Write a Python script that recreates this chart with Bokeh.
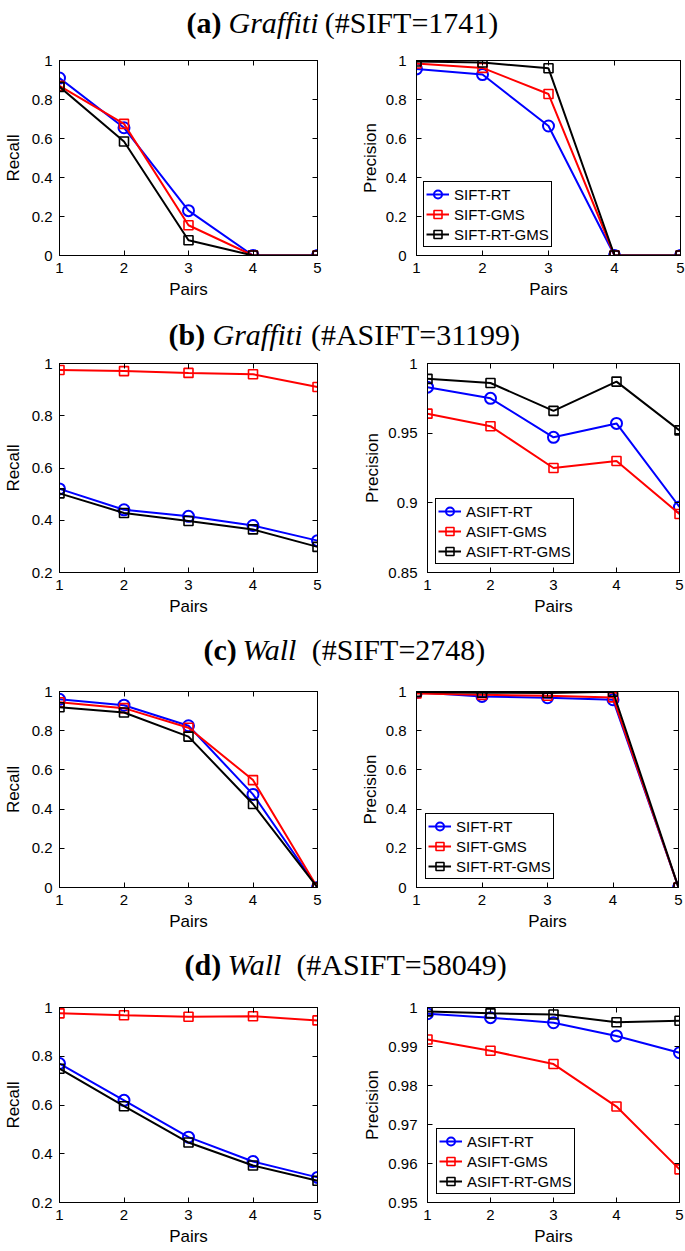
from bokeh.plotting import figure
from bokeh.layouts import column, row
from bokeh.models import Range1d, FixedTicker, Label, LinearAxis
from bokeh.embed import file_html
from bokeh.resources import INLINE

# ---------------- data ----------------
pairs = [1, 2, 3, 4, 5]
pair_labels = ["1", "2", "3", "4", "5"]

series_names_sift = ["SIFT-RT", "SIFT-GMS", "SIFT-RT-GMS"]
series_names_asift = ["ASIFT-RT", "ASIFT-GMS", "ASIFT-RT-GMS"]

# (a) Graffiti, SIFT
a_recall_rt = [0.91, 0.655, 0.23, 0.0, 0.0]
a_recall_gms = [0.87, 0.675, 0.155, 0.0, 0.0]
a_recall_rtgms = [0.865, 0.585, 0.078, 0.0, 0.0]
a_prec_rt = [0.957, 0.928, 0.664, 0.0, 0.0]
a_prec_gms = [0.985, 0.962, 0.828, 0.0, 0.0]
a_prec_rtgms = [0.995, 0.99, 0.96, 0.0, 0.0]

# (b) Graffiti, ASIFT
b_recall_rt = [0.52, 0.44, 0.415, 0.38, 0.322]
b_recall_gms = [0.975, 0.971, 0.964, 0.959, 0.91]
b_recall_rtgms = [0.503, 0.428, 0.397, 0.365, 0.298]
b_prec_rt = [0.983, 0.975, 0.947, 0.957, 0.897]
b_prec_gms = [0.964, 0.955, 0.925, 0.930, 0.892]
b_prec_rtgms = [0.989, 0.986, 0.966, 0.987, 0.952]

# (c) Wall, SIFT
c_recall_rt = [0.96, 0.93, 0.825, 0.475, 0.0]
c_recall_gms = [0.945, 0.915, 0.815, 0.548, 0.0]
c_recall_rtgms = [0.92, 0.893, 0.77, 0.426, 0.0]
c_prec_rt = [0.996, 0.975, 0.968, 0.958, 0.0]
c_prec_gms = [0.99, 0.983, 0.978, 0.97, 0.0]
c_prec_rtgms = [0.998, 0.994, 0.992, 0.999, 0.0]

# (d) Wall, ASIFT
d_recall_rt = [0.77, 0.619, 0.468, 0.368, 0.303]
d_recall_gms = [0.976, 0.968, 0.962, 0.964, 0.947]
d_recall_rtgms = [0.749, 0.595, 0.446, 0.352, 0.289]
d_prec_rt = [0.9984, 0.9974, 0.9961, 0.9927, 0.9884]
d_prec_gms = [0.9918, 0.9889, 0.9855, 0.9746, 0.9585]
d_prec_rtgms = [0.999, 0.9985, 0.9982, 0.9962, 0.9966]

# tick values / labels
ticks_0_1 = [0, 0.2, 0.4, 0.6, 0.8, 1]
labels_0_1 = ["0", "0.2", "0.4", "0.6", "0.8", "1"]
ticks_02_1 = [0.2, 0.4, 0.6, 0.8, 1]
labels_02_1 = ["0.2", "0.4", "0.6", "0.8", "1"]
ticks_085_1 = [0.85, 0.9, 0.95, 1]
labels_085_1 = ["0.85", "0.9", "0.95", "1"]
ticks_095_1 = [0.95, 0.96, 0.97, 0.98, 0.99, 1]
labels_095_1 = ["0.95", "0.96", "0.97", "0.98", "0.99", "1"]

# titles
panel_letters = ["(a)", "(b)", "(c)", "(d)"]
scene_names = ["Graffiti", "Graffiti", "Wall", "Wall"]
feature_counts = ["(#SIFT=1741)", "(#ASIFT=31199)", "(#SIFT=2748)", "(#ASIFT=58049)"]

x_label = "Pairs"
recall_label = "Recall"
precision_label = "Precision"

colors = ["#0000ff", "#ff0000", "#000000"]
markers = ["circle", "square", "square"]

SANS = "Liberation Sans"
SERIF = "Liberation Serif"
TOTAL_W = 685
LEFT_W = 340
RIGHT_W = TOTAL_W - LEFT_W


def style_axis(ax, ticks, labels, standoff, label_standoff):
    ax.ticker = FixedTicker(ticks=ticks)
    ax.major_label_overrides = {t: l for t, l in zip(ticks, labels)}
    ax.major_tick_in = 5
    ax.major_tick_out = 0
    ax.minor_tick_line_color = None
    ax.axis_line_color = "black"
    ax.axis_line_width = 1
    ax.major_tick_line_color = "black"
    ax.major_label_text_font = SANS
    ax.major_label_text_font_size = "15px"
    ax.major_label_text_color = "black"
    ax.major_label_standoff = standoff
    ax.axis_label_text_font = SANS
    ax.axis_label_text_font_size = "17px"
    ax.axis_label_text_font_style = "normal"
    ax.axis_label_text_color = "black"
    ax.axis_label_standoff = label_standoff


def mirror_axis(ticks):
    # box-side axis: inward ticks only, labels not drawn
    ax = LinearAxis(ticker=FixedTicker(ticks=ticks))
    ax.major_tick_in = 5
    ax.major_tick_out = 0
    ax.minor_tick_line_color = None
    ax.axis_line_color = "black"
    ax.major_tick_line_color = "black"
    ax.major_label_text_font_size = "1px"
    ax.major_label_text_color = None
    ax.major_label_standoff = 0
    return ax


def make_plot(w, h, bl, br, bt, bb, y0, y1, yticks, ylabels, ylab, data,
              names=None, legend_xy=None, ystand=7, ylab_stand=6):
    p = figure(width=w, height=h, output_backend="svg", toolbar_location=None,
               x_range=Range1d(1, 5), y_range=Range1d(y0, y1),
               min_border_left=bl, min_border_right=br,
               min_border_top=bt, min_border_bottom=bb)
    p.xgrid.visible = False
    p.ygrid.visible = False
    p.outline_line_color = "black"
    p.outline_line_width = 1
    p.outline_line_alpha = 1
    p.background_fill_color = "white"
    p.border_fill_color = "white"
    style_axis(p.xaxis[0], pairs, pair_labels, 7, 4)
    p.xaxis[0].axis_label = x_label
    style_axis(p.yaxis[0], yticks, ylabels, ystand, ylab_stand)
    p.yaxis[0].axis_label = ylab
    p.add_layout(mirror_axis(pairs), "above")
    p.add_layout(mirror_axis(yticks), "right")

    for i, vals in enumerate(data):
        kw = {}
        if names is not None:
            kw["legend_label"] = names[i]
        p.line(pairs, vals, line_color=colors[i], line_width=2, **kw)
        if markers[i] == "circle":
            p.scatter(pairs, vals, marker="circle", size=11, line_color=colors[i],
                      fill_color=None, line_width=2, **kw)
        else:
            p.scatter(pairs, vals, marker="square", size=9, line_color=colors[i],
                      fill_color=None, line_width=1.6, **kw)
    if names is not None:
        lg = p.legend[0]
        lg.location = legend_xy
        lg.border_line_color = "black"
        lg.border_line_width = 1
        lg.border_line_alpha = 1
        lg.background_fill_color = "white"
        lg.background_fill_alpha = 1
        lg.padding = 2
        lg.spacing = 0
        lg.margin = 0
        lg.label_text_font = SANS
        lg.label_text_font_size = "15px"
        lg.label_text_color = "black"
        lg.glyph_width = 23
        lg.glyph_height = 20
        lg.label_height = 20
        lg.label_standoff = 5
    return p


def make_title(h, mid, idx, letter_x, name_x, count_cx):
    t = figure(width=TOTAL_W, height=h, output_backend="svg", toolbar_location=None,
               x_range=Range1d(0, TOTAL_W), y_range=Range1d(0, h),
               x_axis_location=None, y_axis_location=None, min_border=0)
    t.xgrid.visible = False
    t.ygrid.visible = False
    t.outline_line_color = None
    t.add_layout(Label(x=letter_x, y=mid, text=panel_letters[idx], text_font=SERIF,
                       text_font_size="30px", text_font_style="bold",
                       text_baseline="middle", text_align="left", text_color="black"))
    t.add_layout(Label(x=name_x, y=mid, text=scene_names[idx], text_font=SERIF,
                       text_font_size="30px", text_font_style="italic",
                       text_baseline="middle", text_align="left", text_color="black"))
    t.add_layout(Label(x=count_cx, y=mid, text=feature_counts[idx], text_font=SERIF,
                       text_font_size="30px", text_font_style="normal",
                       text_baseline="middle", text_align="center", text_color="black"))
    return t


# row (a)
ta = make_title(41, 19, 0, 186, 228, 411)
la = make_plot(LEFT_W, 272, 54, 23, 19, 58, 0, 1, ticks_0_1, labels_0_1, recall_label,
               [a_recall_rt, a_recall_gms, a_recall_rtgms])
ra = make_plot(RIGHT_W, 272, 76, 5, 8, 56, 0, 1, ticks_0_1, labels_0_1, precision_label,
               [a_prec_rt, a_prec_gms, a_prec_rtgms], series_names_sift, (7, 8), 10, 3)

# row (b)
tb = make_title(39, 18, 1, 168, 212, 415)
lb = make_plot(LEFT_W, 276, 54, 23, 11, 56, 0.2, 1, ticks_02_1, labels_02_1, recall_label,
               [b_recall_rt, b_recall_gms, b_recall_rtgms])
rb = make_plot(RIGHT_W, 276, 87, 6, 11, 56, 0.85, 1, ticks_085_1, labels_085_1, precision_label,
               [b_prec_rt, b_prec_gms, b_prec_rtgms], series_names_asift, (8, 8), 10, 3)

# row (c)
tc = make_title(40, 19, 2, 203, 242, 398)
lc = make_plot(LEFT_W, 272, 54, 23, 11, 52, 0, 1, ticks_0_1, labels_0_1, recall_label,
               [c_recall_rt, c_recall_gms, c_recall_rtgms])
rc = make_plot(RIGHT_W, 272, 76, 7, 23, 53, 0, 1, ticks_0_1, labels_0_1, precision_label,
               [c_prec_rt, c_prec_gms, c_prec_rtgms], series_names_sift, (9, 8), 10, 3)

# row (d)
td = make_title(41, 17, 3, 184, 227, 401)
ld = make_plot(LEFT_W, 270, 54, 23, 13, 48, 0.2, 1, ticks_02_1, labels_02_1, recall_label,
               [d_recall_rt, d_recall_gms, d_recall_rtgms])
rd = make_plot(RIGHT_W, 270, 87, 6, 26, 49, 0.95, 1, ticks_095_1, labels_095_1, precision_label,
               [d_prec_rt, d_prec_gms, d_prec_rtgms], series_names_asift, (9, 8), 10, 3)

layout = column(ta, row(la, ra), tb, row(lb, rb), tc, row(lc, rc), td, row(ld, rd))

open("out.html", "w").write(file_html(layout, INLINE))
